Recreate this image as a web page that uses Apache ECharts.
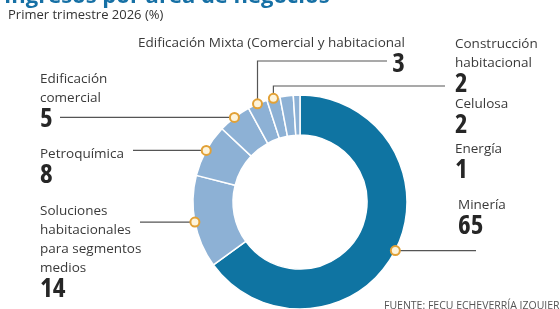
<!DOCTYPE html>
<html>
<head>
<meta charset="utf-8">
<script src="https://cdn.jsdelivr.net/npm/echarts@6/dist/echarts.min.js"></script>
<style>
html, body { margin: 0; padding: 0; background: #fff; }
#chart { width: 560px; height: 309px; }
</style>
</head>
<body>
<div id="chart"></div>
<script>
var categories = ['Minería', 'Soluciones habitacionales para segmentos medios', 'Petroquímica',
    'Edificación comercial', 'Edificación Mixta (Comercial y habitacional',
    'Construcción habitacional', 'Celulosa', 'Energía'];
// how each name is broken over lines in the labels
var nameLines = [
    ['Minería'],
    ['Soluciones', 'habitacionales', 'para segmentos', 'medios'],
    ['Petroquímica'],
    ['Edificación', 'comercial'],
    ['Edificación Mixta (Comercial y habitacional'],
    ['Construcción', 'habitacional'],
    ['Celulosa'],
    ['Energía']
];
var values = [65, 14, 8, 5, 3, 2, 2, 1];
var hasMarker = [true, true, true, true, true, true, false, false];

var darkBlue = '#0f74a2',
    lightBlue = '#8db1d5',
    lineColor = '#555';

// where each label block sits and how its leader line runs
// h: horizontal line to x; v: up to y then right to x
var labelPos = [
    {x: 458, y: 196, align: 'left', line: 'h', lx: 476},
    {x: 40, y: 202, align: 'left', line: 'h', lx: 140},
    {x: 40, y: 145, align: 'left', line: 'h', lx: 133},
    {x: 40, y: 70, align: 'left', line: 'h', lx: 60},
    {x: 405, y: 34, align: 'right', line: 'v', ly: 61, lx: 387},
    {x: 455, y: 35, align: 'left', line: 'v', ly: 86, lx: 445},
    {x: 455, y: 95, align: 'left'},
    {x: 455, y: 140, align: 'left'}
];

var chart = echarts.init(document.getElementById('chart'));

var mainData = values.map(function (v, i) {
    return {
        value: v,
        name: categories[i],
        itemStyle: {color: i === 0 ? darkBlue : lightBlue},
        labelLine: {show: hasMarker[i]}
    };
});

var dotData = values.map(function (v, i) {
    return {
        value: v,
        name: categories[i],
        label: {show: hasMarker[i]}
    };
});

var option = {
    animation: false,
    title: [
        {
            text: 'Ingresos por área de negocios',
            left: 4, top: -14, padding: 0,
            textStyle: {fontFamily: 'Open Sans', fontWeight: 'bold', fontSize: 22, color: '#1670a5'}
        },
        {
            text: 'Primer trimestre 2026 (%)',
            left: 8, top: 9, padding: 0,
            textStyle: {fontFamily: 'Open Sans', fontWeight: 'normal', fontSize: 13, color: '#333'}
        },
        {
            text: 'FUENTE: FECU ECHEVERRÍA IZQUIERDO',
            left: 384, top: 301, padding: 0,
            textStyle: {fontFamily: 'Open Sans', fontWeight: 'normal', fontSize: 10.5, color: '#555'}
        }
    ],
    series: [
        {
            name: 'Ingresos',
            type: 'pie',
            center: [300, 202],
            radius: [67, 107],
            startAngle: 90,
            clockwise: true,
            avoidLabelOverlap: false,
            silent: true,
            itemStyle: {borderColor: '#fff', borderWidth: 1.5},
            label: {
                show: true,
                position: 'outside',
                formatter: function (p) {
                    return '{n|' + nameLines[p.dataIndex].join('}\n{n|') + '}\n{v|' + p.value + '}';
                },
                rich: {
                    n: {fontFamily: 'Open Sans', fontSize: 13.5, color: '#3a3a3a', lineHeight: 19},
                    v: {fontFamily: 'Open Sans', fontStyle: 'condensed', fontWeight: 'bold', fontSize: 27, color: '#262626', lineHeight: 22}
                }
            },
            labelLine: {
                length: 10,
                length2: 10,
                lineStyle: {color: lineColor, width: 1.2}
            },
            labelLayout: function (params) {
                var pos = labelPos[params.dataIndex];
                var out = {x: pos.x, y: pos.y, align: pos.align, verticalAlign: 'top'};
                var pts = params.labelLinePoints;
                if (pts && pos.line) {
                    var e = pts[0];
                    if (pos.line === 'h') {
                        out.labelLinePoints = [e, [pos.lx, e[1]]];
                    } else {
                        out.labelLinePoints = [e, [e[0], pos.ly], [pos.lx, pos.ly]];
                    }
                }
                return out;
            },
            data: mainData
        },
        {
            name: 'markers',
            type: 'pie',
            center: [300, 202],
            radius: [67, 107],
            startAngle: 90,
            clockwise: true,
            avoidLabelOverlap: false,
            silent: true,
            z: 5,
            itemStyle: {color: 'rgba(0,0,0,0)'},
            label: {
                show: true,
                position: 'outside',
                distanceToLabelLine: 0,
                formatter: '{d|}',
                rich: {
                    d: {width: 7, height: 7, borderRadius: 5, backgroundColor: '#fdf4dc', borderColor: '#e2a136', borderWidth: 2}
                }
            },
            labelLine: {show: false, length: 0, length2: 0},
            labelLayout: {align: 'center', verticalAlign: 'middle'},
            data: dotData
        }
    ]
};

chart.setOption(option);
</script>
</body>
</html>
